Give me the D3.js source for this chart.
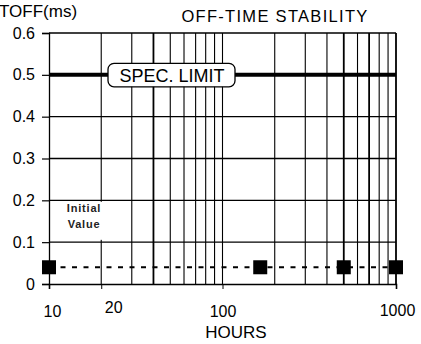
<!DOCTYPE html>
<html>
<head>
<meta charset="utf-8">
<script src="https://cdn.jsdelivr.net/npm/d3@7"></script>
<style>
  html, body { margin: 0; padding: 0; background: #fff; }
  svg { display: block; font-family: "Liberation Sans", Arial, sans-serif; }
</style>
</head>
<body>
<svg id="chart" width="421" height="344"></svg>
<script>
// Off-time measurements over the test duration
const hours = [10, 165, 500, 1000];
const toff = [0.04, 0.04, 0.04, 0.04];
const specLimit = 0.5;
const yTicks = [0, 0.1, 0.2, 0.3, 0.4, 0.5, 0.6];
const xTickLabels = [10, 20, 100, 1000];
const xGrid = [20, 30, 40, 50, 60, 70, 80, 90, 100, 200, 300, 400, 500, 600, 700, 800, 900];
const yGrid = [0.1, 0.2, 0.3, 0.4];

const FONT = "Liberation Sans, Arial, sans-serif";
const svg = d3.select("#chart");
const x = d3.scaleLog().domain([10, 1000]).range([49, 396]);
const y = d3.scaleLinear().domain([0, 0.6]).range([284, 33]);

// vertical grid
svg.append("g").selectAll("line").data(xGrid).join("line")
  .attr("x1", d => x(d)).attr("x2", d => x(d))
  .attr("y1", y(0.6)).attr("y2", y(0))
  .attr("stroke", "#000")
  .attr("stroke-width", d => (d === 40 || d === 500 || d === 700) ? 1.8 : 1.1);

// horizontal grid
svg.append("g").selectAll("line").data(yGrid).join("line")
  .attr("x1", x(10)).attr("x2", x(1000))
  .attr("y1", d => y(d)).attr("y2", d => y(d))
  .attr("stroke", "#000").attr("stroke-width", 1.3);

// frame: top and right borders
svg.append("line").attr("x1", x(10)).attr("x2", x(1000))
  .attr("y1", y(0.6)).attr("y2", y(0.6)).attr("stroke", "#000").attr("stroke-width", 1.3);
svg.append("line").attr("x1", x(1000)).attr("x2", x(1000))
  .attr("y1", y(0.6)).attr("y2", y(0)).attr("stroke", "#000").attr("stroke-width", 1.8);

// label for the first reading, knocked out of the grid
const lab = svg.append("g");
lab.append("rect").attr("x", 55).attr("y", y(0.2) + 1.5).attr("width", 51).attr("height", 38).attr("fill", "#fff");
lab.append("text").attr("x", 84).attr("y", 212).attr("text-anchor", "middle")
  .attr("font-size", 11).attr("font-weight", "bold").attr("letter-spacing", 0.8)
  .attr("fill", "#222").text("Initial");
lab.append("text").attr("x", 84).attr("y", 228).attr("text-anchor", "middle")
  .attr("font-size", 11).attr("font-weight", "bold").attr("letter-spacing", 0.8)
  .attr("fill", "#222").text("Value");

// y axis
const yAxis = svg.append("g").attr("transform", `translate(${x(10)},0)`)
  .call(d3.axisLeft(y).tickValues(yTicks).tickSize(7).tickPadding(7)
    .tickFormat(d => d === 0 ? "0" : d.toFixed(1)));
yAxis.select(".domain").attr("stroke", "#000").attr("stroke-width", 1.3);
yAxis.selectAll(".tick line").attr("stroke", "#000").attr("stroke-width", 1.2);
yAxis.selectAll("text").attr("font-size", 16).attr("fill", "#000").attr("font-family", FONT);

// x axis
const xAxis = svg.append("g").attr("transform", `translate(0,${y(0)})`)
  .call(d3.axisBottom(x).tickValues(xTickLabels).tickSize(5).tickPadding(17)
    .tickFormat(d3.format("d")));
xAxis.select(".domain").attr("stroke", "#000").attr("stroke-width", 1.6);
xAxis.selectAll(".tick line").attr("stroke", "#000");
xAxis.selectAll("text").attr("font-size", 16).attr("fill", "#000").attr("font-family", FONT);
xAxis.selectAll(".tick").filter(d => d === 20).select("text")
  .attr("dx", 12).attr("dy", "0.46em");
xAxis.selectAll(".tick").filter(d => d === 10).select("text").attr("dx", 3);
xAxis.selectAll(".tick").filter(d => d === 1000).select("text").attr("dx", 1).attr("dy", "0.65em");

// spec limit
svg.append("line").attr("x1", x(10)).attr("x2", x(1000))
  .attr("y1", y(specLimit)).attr("y2", y(specLimit))
  .attr("stroke", "#000").attr("stroke-width", 4);
const spec = svg.append("g");
spec.append("rect").attr("x", 108).attr("y", y(specLimit) - 11.5).attr("width", 127).attr("height", 23.5)
  .attr("rx", 6).attr("fill", "#fff").attr("stroke", "#000").attr("stroke-width", 1.3);
spec.append("text").attr("x", 172).attr("y", y(specLimit) + 7).attr("text-anchor", "middle")
  .attr("font-size", 18).text("SPEC. LIMIT");

// readings
const pts = hours.map((h, i) => [h, toff[i]]);
svg.append("path").datum(pts)
  .attr("d", d3.line().x(d => x(d[0])).y(d => y(d[1])))
  .attr("fill", "none").attr("stroke", "#000").attr("stroke-width", 2)
  .attr("stroke-dasharray", "5,6.5");
svg.append("g").selectAll("rect").data(pts).join("rect")
  .attr("x", d => x(d[0]) - 7).attr("y", d => y(d[1]) - 7)
  .attr("width", 14).attr("height", 14).attr("fill", "#000");

// titles
svg.append("text").attr("x", -1).attr("y", 17).attr("font-size", 17).text("TOFF(ms)");
svg.append("text").attr("x", 275).attr("y", 22).attr("text-anchor", "middle")
  .attr("font-size", 16.5).attr("letter-spacing", 1.3).text("OFF-TIME STABILITY");
svg.append("text").attr("x", 236).attr("y", 338).attr("text-anchor", "middle")
  .attr("font-size", 17).text("HOURS");
</script>
</body>
</html>
